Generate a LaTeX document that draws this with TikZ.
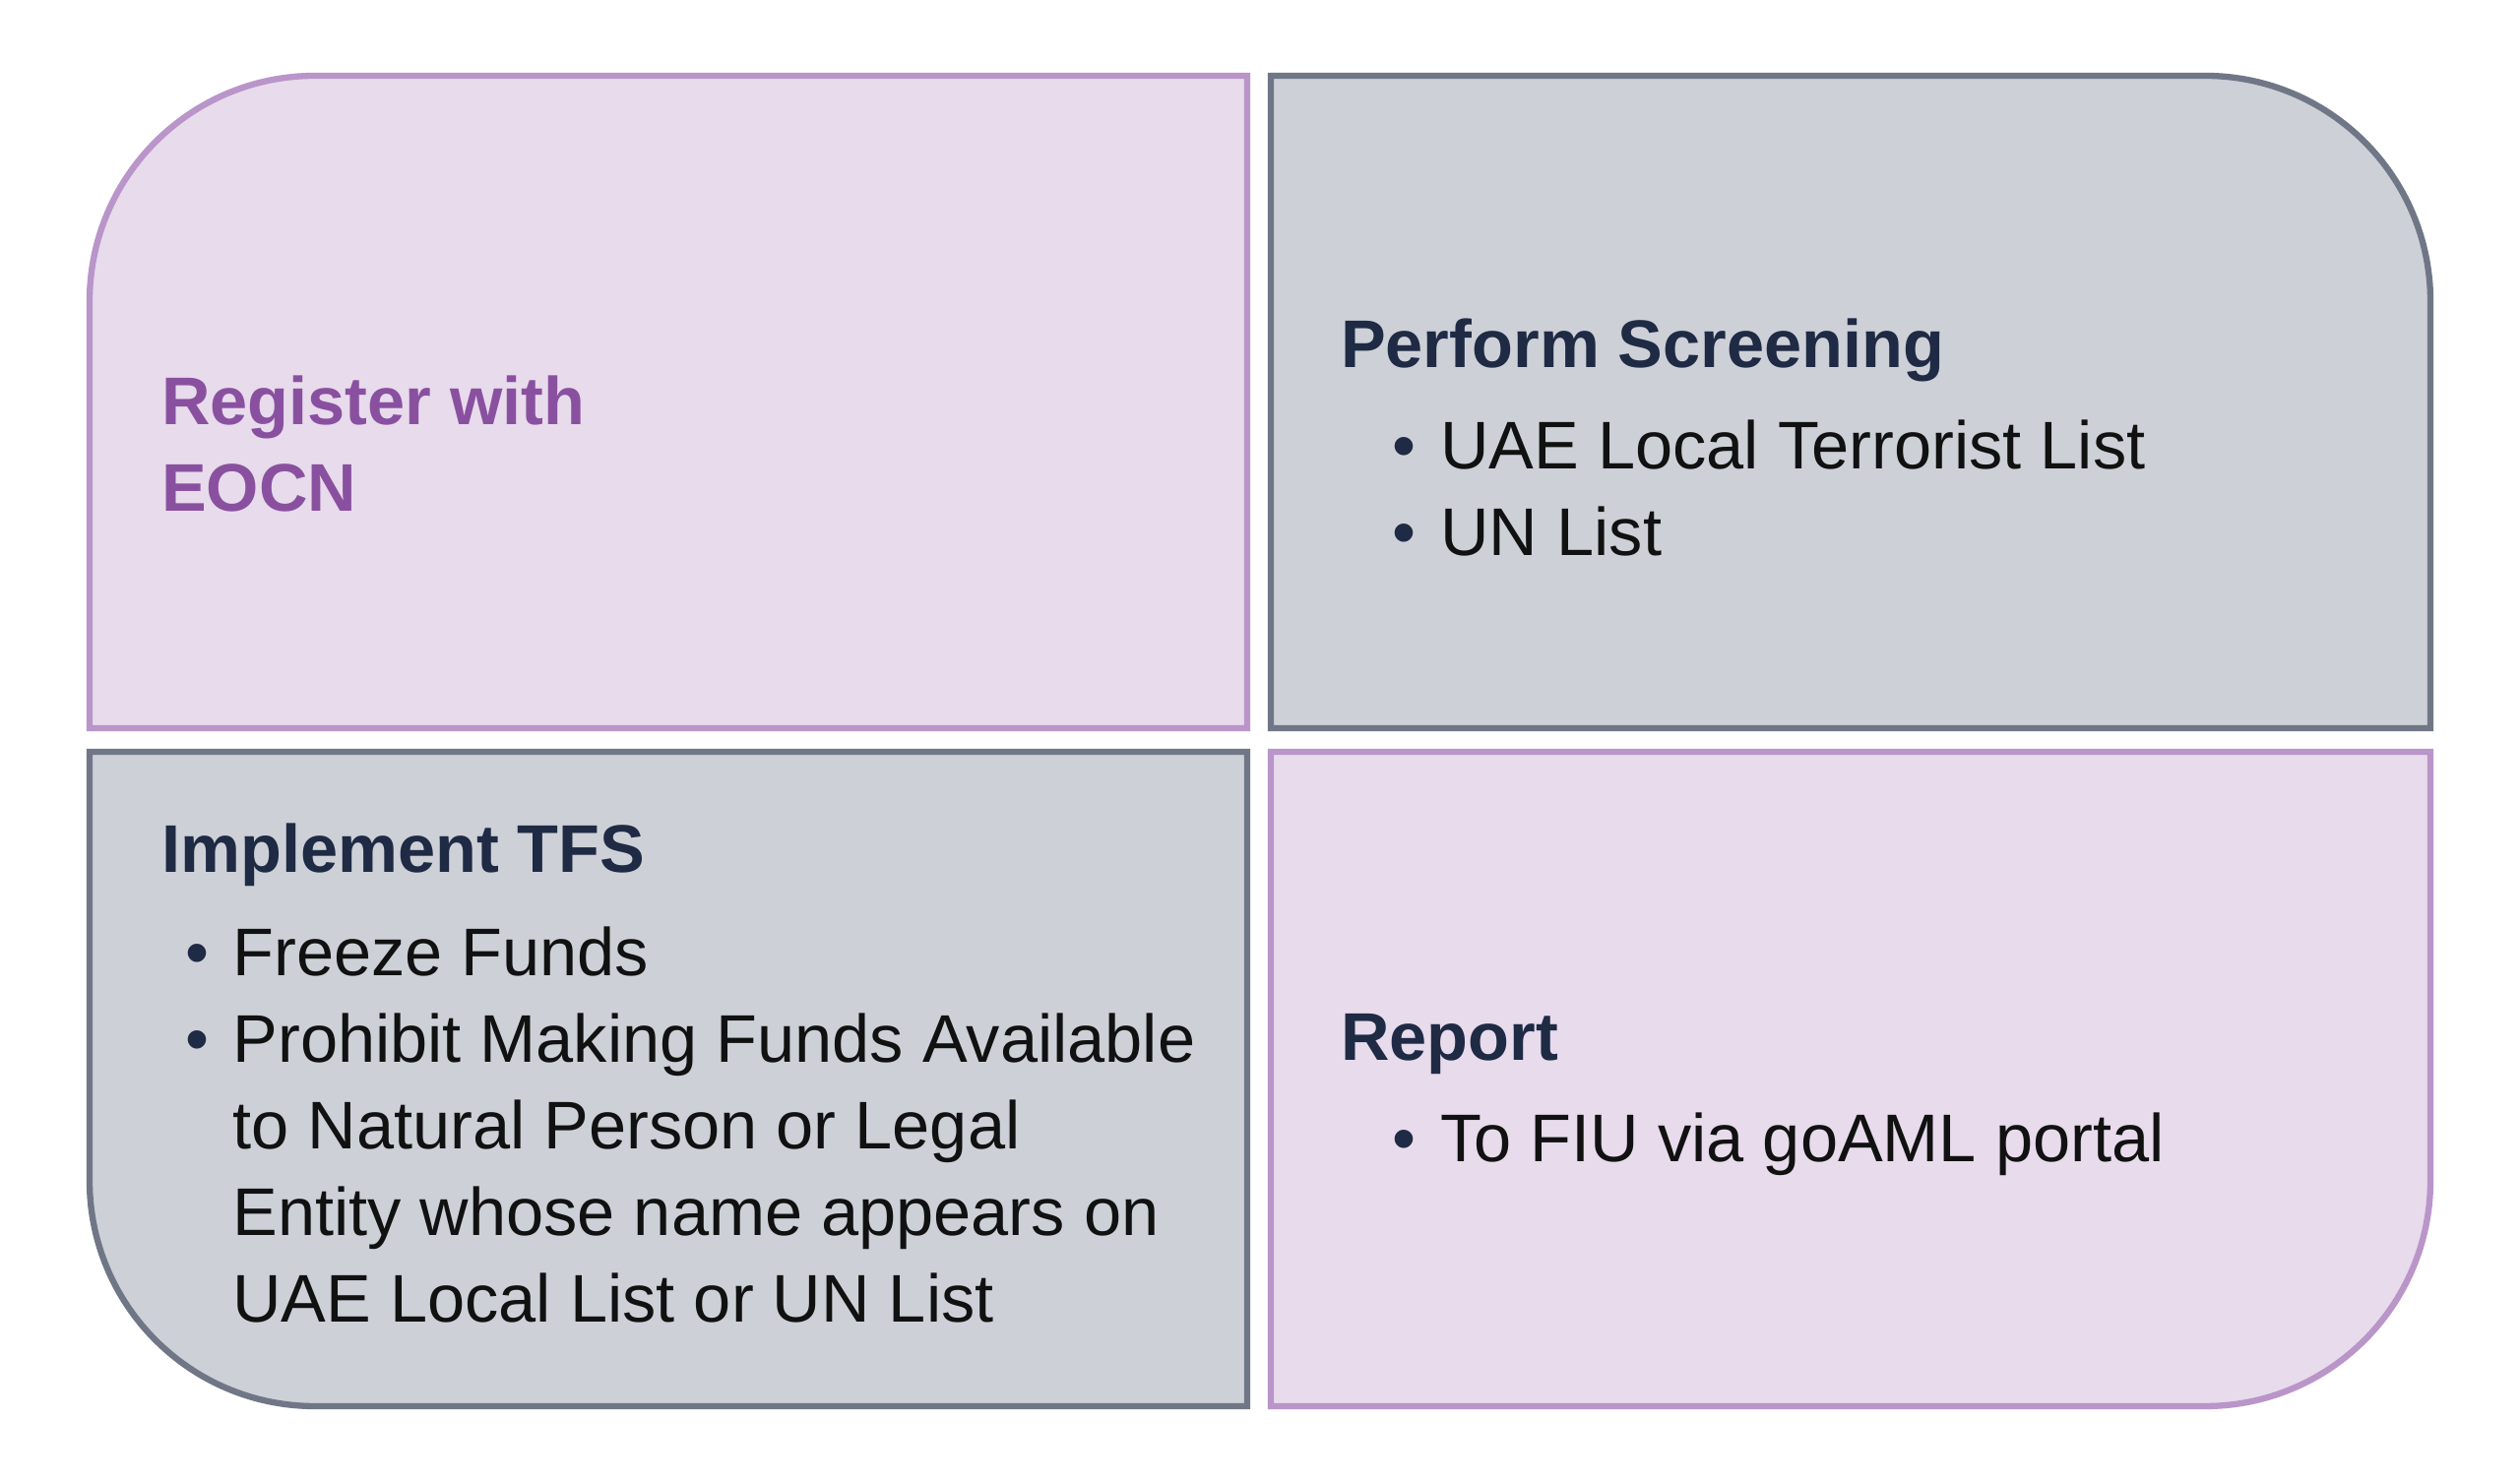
\documentclass[tikz,border=0pt]{standalone}
\usepackage{fontspec}
\setmainfont{Liberation Sans}
\usepackage{tikz}
\usetikzlibrary{positioning}

\definecolor{lilacfill}{HTML}{E7DBEC}
\definecolor{lilacline}{HTML}{B995C9}
\definecolor{slatefill}{HTML}{CDD1D7}
\definecolor{slateline}{HTML}{6F7787}
\definecolor{plum}{HTML}{8A50A0}
\definecolor{navy}{HTML}{1F2A44}
\definecolor{ink}{HTML}{111111}

\begin{document}
\begin{tikzpicture}[line width=1.8pt,
    lilac box/.style={draw=lilacline,fill=lilacfill},
    slate box/.style={draw=slateline,fill=slatefill},
    head node/.style={anchor=base west,inner sep=0pt,font=\fontsize{19.5}{25}\selectfont\bfseries,text=navy},
    item node/.style={anchor=base west,inner sep=0pt,font=\fontsize{19.5}{25}\selectfont,text=ink},
    dot node/.style={anchor=base west,inner sep=0pt,font=\fontsize{19.5}{25}\selectfont,text=navy}]

  \useasboundingbox[fill=white] (0,0) rectangle (25.6,15.05);

  % four quarters
  \draw[lilac box] (12.67,7.65) -- (0.91,7.65) -- (0.91,11.99)
    arc[start angle=180,end angle=90,radius=2.29] -- (12.67,14.28) -- cycle;
  \draw[slate box] (12.91,7.65) -- (12.91,14.28) -- (22.40,14.28)
    arc[start angle=90,end angle=0,radius=2.29] -- (24.69,7.65) -- cycle;
  \draw[slate box] (0.91,7.41) -- (12.67,7.41) -- (12.67,0.76) -- (3.20,0.76)
    arc[start angle=270,end angle=180,radius=2.29] -- cycle;
  \draw[lilac box] (12.91,7.41) -- (24.69,7.41) -- (24.69,3.05)
    arc[start angle=0,end angle=-90,radius=2.29] -- (12.91,0.76) -- cycle;

  % register
  \node[head node,text=plum] (reg1) at (1.61,10.73) {Register with};
  \node[head node,text=plum,yshift=-25pt] (reg2) at (reg1.base west) {EOCN};

  % screening
  \node[head node] (scr) at (13.59,11.31) {Perform Screening};
  \node[dot node] (sd1) at (14.11,10.28) {\textbullet};
  \node[item node] (si1) [right=0.19cm of sd1.base east,anchor=base west] {UAE Local Terrorist List};
  \node[dot node,yshift=-25pt] (sd2) at (sd1.base west) {\textbullet};
  \node[item node] (si2) [right=0.19cm of sd2.base east,anchor=base west] {UN List};

  % tfs
  \node[head node] (tfs) at (1.61,6.18) {Implement TFS};
  \node[dot node] (td1) at (1.85,5.13) {\textbullet};
  \node[item node] (ti1) [right=0.18cm of td1.base east,anchor=base west] {Freeze Funds};
  \node[dot node,yshift=-25pt] (td2) at (td1.base west) {\textbullet};
  \node[item node] (ti2) [right=0.18cm of td2.base east,anchor=base west] {Prohibit Making Funds Available};
  \node[item node,yshift=-25pt] (ti3) at (ti2.base west) {to Natural Person or Legal};
  \node[item node,yshift=-25pt] (ti4) at (ti3.base west) {Entity whose name appears on};
  \node[item node,yshift=-25pt] (ti5) at (ti4.base west) {UAE Local List or UN List};

  % report
  \node[head node] (rep) at (13.59,4.27) {Report};
  \node[dot node] (rd1) at (14.11,3.24) {\textbullet};
  \node[item node] (ri1) [right=0.19cm of rd1.base east,anchor=base west] {To FIU via goAML portal};
\end{tikzpicture}
\end{document}
